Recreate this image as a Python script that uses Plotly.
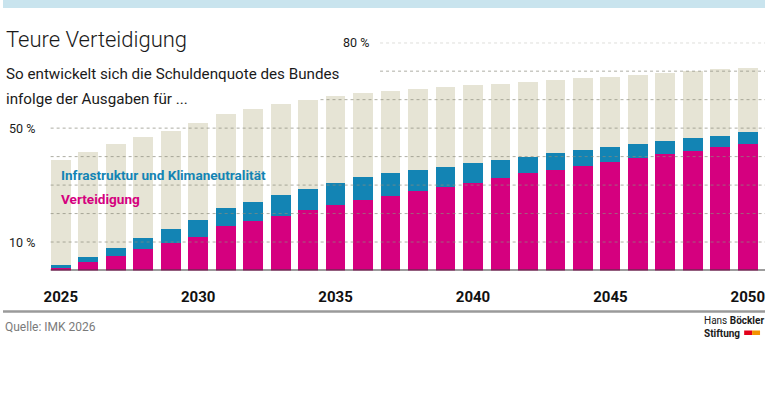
import plotly.graph_objects as go

years = list(range(2025, 2051))
# Schuldenquote gesamt (%)
gesamt = [38.8, 41.7, 44.3, 46.9, 49.1, 51.9, 54.9, 56.8, 58.5, 59.8, 61.2, 62.5, 63.2,
          63.8, 64.4, 65.1, 65.5, 66.2, 67.0, 67.5, 68.1, 68.7, 69.4, 70.0, 70.6, 71.2]
# Anteil Verteidigung (Prozentpunkte)
verteidigung = [1.2, 2.9, 5.2, 7.4, 9.5, 11.9, 15.6, 17.5, 19.3, 21.2, 22.9, 24.6, 26.3,
                27.8, 29.4, 30.9, 32.6, 34.1, 35.4, 36.8, 38.2, 39.5, 40.8, 41.9, 43.2, 44.5]
# Anteil Infrastruktur und Klimaneutralität (Prozentpunkte)
infrastruktur = [0.6, 1.8, 2.8, 4.0, 5.1, 5.9, 6.2, 6.6, 7.2, 7.4, 7.9, 8.1, 7.8,
                 7.5, 7.1, 6.8, 6.2, 5.8, 5.7, 5.5, 5.2, 4.9, 4.6, 4.6, 4.2, 4.0]
rest = [round(g - v - i, 2) for g, v, i in zip(gesamt, verteidigung, infrastruktur)]

tick_years = [2025, 2030, 2035, 2040, 2045, 2050]
tick_text = [str(y) for y in tick_years]
grid_values = [10, 20, 30, 40, 50, 60, 70, 80]
grid_start_px = {10: 48, 20: 48, 30: 48, 40: 48, 50: 48, 60: 320, 70: 380, 80: 380}
y_labels = [("50 %", 50, 4), ("10 %", 10, 4), ("80 %", 80, 341)]

MAGENTA = "#d5007f"
BLUE = "#1384b4"
BEIGE = "#e6e4d5"
FONT = "Roboto, Liberation Sans, Arial, sans-serif"

W, H = 768, 400
fig = go.Figure()
fig.add_bar(x=years, y=verteidigung, marker=dict(color=MAGENTA, line=dict(width=0)), name="Verteidigung")
fig.add_bar(x=years, y=infrastruktur, marker=dict(color=BLUE, line=dict(width=0)), name="Infrastruktur")
fig.add_bar(x=years, y=rest, marker=dict(color=BEIGE, line=dict(width=0)), name="Rest")

y0_px, y80_px = 270.5, 42.7
shapes = []
# top strip
shapes.append(dict(type="rect", xref="paper", yref="paper", x0=0, x1=1, y0=1 - 8 / H, y1=1,
                   fillcolor="#c9e4ee", line=dict(width=0), layer="below"))
# gridlines
for g in grid_values:
    shapes.append(dict(type="line", xref="paper", yref="y", x0=grid_start_px[g] / W, x1=1, y0=g, y1=g,
                       line=dict(color="rgba(140,140,125,0.7)", width=1, dash="dot"), layer="above"))
# baseline
shapes.append(dict(type="line", xref="paper", yref="y", x0=48 / W, x1=1, y0=0, y1=0,
                   line=dict(color="#3d3d3d", width=2), layer="above"))
# footer separator
shapes.append(dict(type="line", xref="paper", yref="paper", x0=0, x1=1,
                   y0=1 - 311.5 / H, y1=1 - 311.5 / H, line=dict(color="#9a9a9a", width=2.5)))
# logo blocks
shapes.append(dict(type="rect", xref="paper", yref="paper", x0=747 / W, x1=755 / W,
                   y0=1 - 335 / H, y1=1 - 330.5 / H, fillcolor="#e2001a", line=dict(width=0)))
shapes.append(dict(type="rect", xref="paper", yref="paper", x0=755 / W, x1=763 / W,
                   y0=1 - 335 / H, y1=1 - 330.5 / H, fillcolor="#f39200", line=dict(width=0)))

ann = []
def txt(text, x_px, y_px, size, color="#1a1a1a", xanchor="left", weight="normal"):
    ann.append(dict(text=text, x=x_px / W, y=1 - y_px / H, xref="paper", yref="paper",
                    xanchor=xanchor, yanchor="middle", showarrow=False, align="left",
                    font=dict(size=size, color=color, family=FONT, weight=weight)))

txt("Teure Verteidigung", 1, 40, 22, "#1a1a1a", weight=300)
txt("So entwickelt sich die Schuldenquote des Bundes", 1, 74, 15.2)
txt("infolge der Ausgaben für ...", 1, 99, 15.2)
for label, val, xp in y_labels:
    ann.append(dict(text=label, x=xp / W, y=val, xref="paper", yref="y", xanchor="left",
                    yanchor="middle", showarrow=False, font=dict(size=12.5, color="#1a1a1a", family=FONT)))
txt("Infrastruktur und Klimaneutralität", 56, 175, 13.6, BLUE, weight="bold")
txt("Verteidigung", 56, 199, 13.6, MAGENTA, weight="bold")
txt("Quelle: IMK 2026", 0, 327, 12, "#7a7a7a")
txt("Hans <b>Böckler</b><br><b>Stiftung</b>", 705, 327, 10, "#1a1a1a")

fig.update_layout(
    width=W, height=H, margin=dict(l=0, r=0, t=0, b=0),
    paper_bgcolor="white", plot_bgcolor="white",
    barmode="stack", bargap=0.28, showlegend=False,
    shapes=shapes, annotations=ann,
    xaxis=dict(domain=[44.4 / W, 764.5 / W], range=[2024.5, 2050.5], tickmode="array",
               tickvals=tick_years, ticktext=tick_text, showgrid=False, zeroline=False,
               ticks="outside", ticklen=12, tickcolor="rgba(0,0,0,0)", showline=False,
               ticklabeloverflow="allow",
               tickfont=dict(size=15, color="#111111", family=FONT, weight="bold"), fixedrange=True),
    yaxis=dict(domain=[1 - y0_px / H, 1 - y80_px / H], range=[0, 80], showgrid=False,
               zeroline=False, showticklabels=False, fixedrange=True),
)
fig.write_html("out.html")
